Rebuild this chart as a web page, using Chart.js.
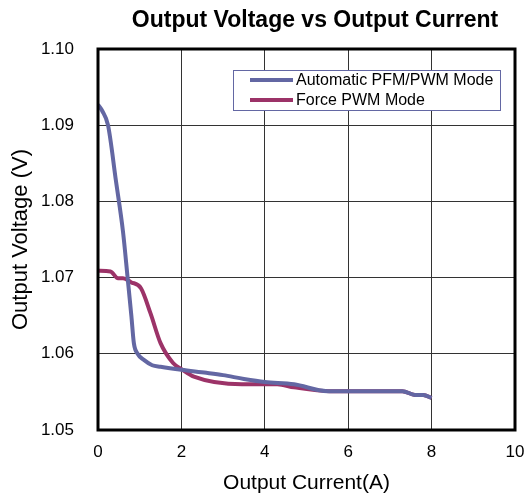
<!DOCTYPE html>
<html>
<head>
<meta charset="utf-8">
<script src="https://cdn.jsdelivr.net/npm/chart.js@4"></script>
<style>
  html, body { margin: 0; padding: 0; background: #fff; }
  #wrap { width: 527px; height: 493px; }
</style>
</head>
<body>
<div id="wrap"><canvas id="graf"></canvas></div>
<script>
// ---------------------------------------------------------------
//   data

const titulo = 'Output Voltage vs Output Current';
const series_nomes = ['Automatic PFM/PWM Mode', 'Force PWM Mode'];

const auto_x = [0, 0.1, 0.24, 0.43, 0.6, 0.71, 0.8, 0.86, 0.95, 1.1, 1.3, 1.5, 2.0, 2.6, 3.0, 3.5, 4.0, 4.7, 5.5, 6.5, 7.3, 7.6, 7.8, 8.0];
const auto_y = [1.0927, 1.0919, 1.0900, 1.0827, 1.0760, 1.0700, 1.0650, 1.0614, 1.0600, 1.0592, 1.0585, 1.0583, 1.0579, 1.0575, 1.0572, 1.0567, 1.0563, 1.0560, 1.0551, 1.0551, 1.0551, 1.0546, 1.0546, 1.0542];

const pwm_x = [0, 0.3, 0.48, 0.6, 0.79, 1.03, 1.26, 1.5, 1.8, 2.0, 2.3, 3.45, 4.3, 4.7, 5.55, 6.5, 7.3, 7.6, 7.8, 8.0];
const pwm_y = [1.0709, 1.0708, 1.0699, 1.0699, 1.0694, 1.0686, 1.0653, 1.0614, 1.0588, 1.0580, 1.0570, 1.0560, 1.0560, 1.0556, 1.0551, 1.0551, 1.0551, 1.0546, 1.0546, 1.0542];

const cores = ['#6367a3', '#9c3368'];

const fonte = '"Liberation Sans", Arial, sans-serif';

function pontos(xs, ys) {
    return xs.map((x, i) => ({ x: x, y: ys[i] }));
}

// title centred over the plot, legend box and frame
const extras = {
    id: 'extras',
    afterDraw(chart) {
        const ctx = chart.ctx;
        const a = chart.chartArea;
        ctx.save();
        // frame
        ctx.strokeStyle = '#000';
        ctx.lineWidth = 3;
        ctx.strokeRect(a.left, a.top, a.right - a.left, a.bottom - a.top);

        // title
        ctx.fillStyle = '#000';
        ctx.font = 'bold 23px ' + fonte;
        ctx.textAlign = 'center';
        ctx.textBaseline = 'middle';
        ctx.fillText(titulo, 315, 21);

        // legend
        const bx = 233, by = 70, bw = 267, bh = 40;
        ctx.fillStyle = '#fff';
        ctx.fillRect(bx, by, bw, bh);
        ctx.strokeStyle = '#6367a3';
        ctx.lineWidth = 1;
        ctx.strokeRect(bx + 0.5, by + 0.5, bw, bh);
        ctx.font = '16px ' + fonte;
        ctx.textAlign = 'left';
        chart.data.datasets.forEach((ds, i) => {
            const yy = 80 + i * 20;
            ctx.strokeStyle = ds.borderColor;
            ctx.lineWidth = 4;
            ctx.beginPath();
            ctx.moveTo(250, yy);
            ctx.lineTo(293, yy);
            ctx.stroke();
            ctx.fillStyle = '#000';
            ctx.fillText(ds.label, 296, yy + 1);
        });
        ctx.restore();
    }
};

const graf = new Chart(document.getElementById('graf'), {
    type: 'line',
    data: {
        datasets: [
            {
                label: series_nomes[0],
                data: pontos(auto_x, auto_y),
                borderColor: cores[0],
                borderWidth: 4,
                pointRadius: 0,
                cubicInterpolationMode: 'monotone',
                fill: false
            },
            {
                label: series_nomes[1],
                data: pontos(pwm_x, pwm_y),
                borderColor: cores[1],
                borderWidth: 4,
                pointRadius: 0,
                cubicInterpolationMode: 'monotone',
                fill: false
            }
        ]
    },
    options: {
        responsive: true,
        maintainAspectRatio: false,
        animation: false,
        layout: {
            padding: { left: 0, right: 0, top: 49, bottom: 0 }
        },
        plugins: {
            legend: { display: false },
            title: { display: false },
            tooltip: { enabled: false }
        },
        scales: {
            x: {
                type: 'linear',
                min: 0,
                max: 10,
                ticks: {
                    stepSize: 2,
                    color: '#000',
                    font: { family: fonte, size: 17 },
                    padding: 12
                },
                grid: { color: '#333', lineWidth: 1, drawTicks: false },
                border: { display: false },
                title: {
                    display: true,
                    text: 'Output Current(A)',
                    color: '#000',
                    font: { family: fonte, size: 21 },
                    padding: { top: 0, bottom: -3 }
                },
                afterFit(s) {
                    s.height = 63;
                    s.paddingLeft = 0;
                    s.paddingRight = 12;
                }
            },
            y: {
                type: 'linear',
                min: 1.05,
                max: 1.10,
                ticks: {
                    stepSize: 0.01,
                    color: '#000',
                    font: { family: fonte, size: 17 },
                    padding: 24,
                    callback: v => v.toFixed(2)
                },
                grid: { color: '#333', lineWidth: 1, drawTicks: false },
                border: { display: false },
                title: {
                    display: true,
                    text: 'Output Voltage (V)',
                    color: '#000',
                    font: { family: fonte, size: 22 },
                    padding: { top: 8, bottom: 0 }
                },
                afterFit(s) { s.width = 98; }
            }
        }
    },
    plugins: [extras]
});
</script>
</body>
</html>
